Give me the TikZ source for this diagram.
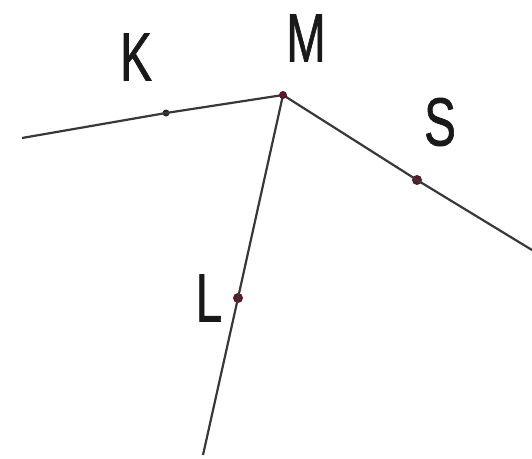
\documentclass[tikz,border=0pt]{standalone}
\usepackage{fontspec}
\setmainfont{Liberation Sans}
\newfontfamily\lblfont[FakeBold=1.2]{Liberation Sans}
\definecolor{dotred}{RGB}{90,25,40}
\begin{document}
\begin{tikzpicture}[x=1pt,y=-1pt,
  ray/.style={draw=black!78,line width=2.2pt},
  pdot/.style={circle,fill=#1,inner sep=0pt,minimum size=10pt},
  lbl/.style={font=\lblfont\fontsize{68}{70}\selectfont,xscale=0.7,text=black!90,inner sep=0pt}]
\useasboundingbox (0,0) rectangle (532,458);
\coordinate (M) at (283,95);
\coordinate (E1) at (22,138);
\coordinate (E2) at (532,250);
\coordinate (E3) at (203,455);
\node[pdot=black!85,minimum size=7pt] (K) at (166,113) {};
\node[pdot=dotred] (S) at (417,180) {};
\node[pdot=dotred] (L) at (238,298) {};
\draw[ray] (E1) -- (K.center) -- (M);
\draw[ray] (M) -- (S.center) -- (E2);
\draw[ray] (M) -- (L.center) -- (E3);
\node[pdot=dotred,minimum size=8pt] (Mdot) at (M) {};
\node[lbl] (tK) at (136,57) {K};
\node[lbl] (tM) at (306,38) {M};
\node[lbl] (tS) at (440,122) {S};
\node[lbl] (tL) at (209,298) {L};
\end{tikzpicture}
\end{document}
